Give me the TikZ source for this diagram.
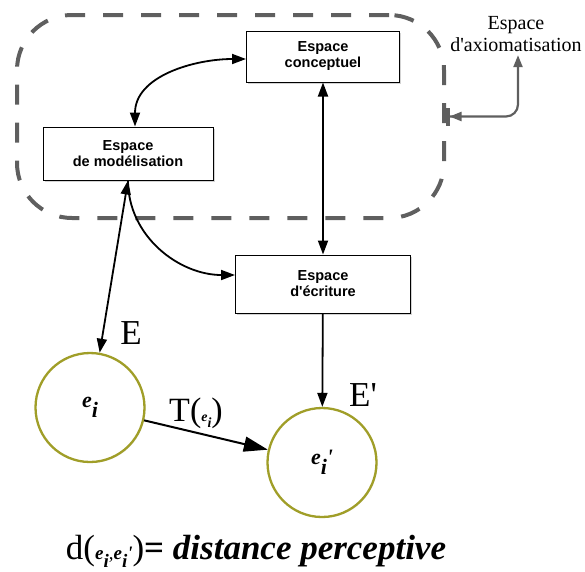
\documentclass[tikz,border=0pt]{standalone}
\usepackage{fontspec}
\setmainfont{Liberation Serif}
\setsansfont{Liberation Sans}
\usetikzlibrary{positioning,arrows.meta,shadows}
\definecolor{ringcol}{RGB}{160,158,40}
\definecolor{dashcol}{RGB}{95,95,95}
\newcommand{\elem}[1]{\textbf{\textit{e\raisebox{-.45em}{i}#1}}}

\begin{document}
\begin{tikzpicture}[x=1pt,y=1pt,
box/.style={draw,line width=1pt,fill=white,minimum height=51pt,align=center,inner sep=2pt,
  font=\sffamily\bfseries\fontsize{14.5}{16}\selectfont,
  drop shadow={shadow xshift=1.5pt,shadow yshift=-1.5pt,opacity=0.35}},
ring/.style={circle,draw=ringcol,line width=2.3pt,fill=white,minimum size=109pt,inner sep=0pt,
  font=\fontsize{22}{24}\selectfont,
  drop shadow={shadow xshift=1pt,shadow yshift=-1pt,opacity=0.2}},
frame/.style={draw=dashcol,line width=4pt,dash pattern=on 20pt off 18pt,rounded corners=55pt,
  minimum width=427pt,minimum height=203pt},
arr/.style={-{Triangle[length=14pt,width=10pt]},line width=1.8pt},
darr/.style={{Triangle[length=14pt,width=10pt]}-{Triangle[length=14pt,width=10pt]},line width=1.8pt},
bigarr/.style={-{Triangle[length=24pt,width=15pt]},line width=2pt},
garr/.style={{Bar[width=18pt,line width=3.5pt]Triangle[length=12pt,width=9pt]}-{Triangle[length=12pt,width=9pt]},
  draw=dashcol,line width=2.2pt,rounded corners=12pt},
big/.style={font=\fontsize{35}{35}\selectfont}]
\useasboundingbox (0,0) rectangle (585,-571);
\node[frame] (axbox) at (230.5,-116.5) {};
\node[box,minimum width=153pt] (concept) at (323,-56.5) {Espace\\conceptuel};
\node[box,minimum width=170pt,minimum height=53pt] (model) at (128,-153.5) {Espace\\de modélisation};
\node[box,minimum width=175pt,minimum height=58pt] (ecrit) at (323,-284) {Espace\\d\textquotesingle écriture};
\node[ring] (ei) at (90,-407.5) {\elem{}};
\node[ring] (eip) at (322,-462.5) {\elem{\textquotesingle}};
\node[font=\fontsize{20}{22}\selectfont,align=center] (axio) at (516,-34) {Espace\\d\textquotesingle axiomatisation};
\draw[darr] ([xshift=7pt]model.north) to[out=90,in=180] ([yshift=-2.5pt]concept.west);
\draw[darr] (concept) -- (ecrit);
\draw[darr] (model.south) -- (ei.80);
\draw[arr] (model.south) to[out=-90,in=180] ([yshift=9pt]ecrit.west);
\draw[arr] (ecrit) -- (eip);
\draw[bigarr] (ei) -- (eip);
\draw[garr] (axbox.east) -| ([xshift=2pt]axio.south);
\node[big] (lE) at (131,-333) {E};
\node[big] (lEp) at (363,-395) {E\textquotesingle};
\node[font=\fontsize{34}{34}\selectfont] (trans) at (196,-413) {T({\fontsize{14}{14}\selectfont\elem{}})};
\node[font=\fontsize{35}{35}\selectfont,anchor=base,inner sep=0pt] (dist) at (256,-559)
  {d({\fontsize{19}{19}\selectfont\elem{},\elem{\textquotesingle}})\textbf{= \textit{distance perceptive}}};
\end{tikzpicture}
\end{document}
